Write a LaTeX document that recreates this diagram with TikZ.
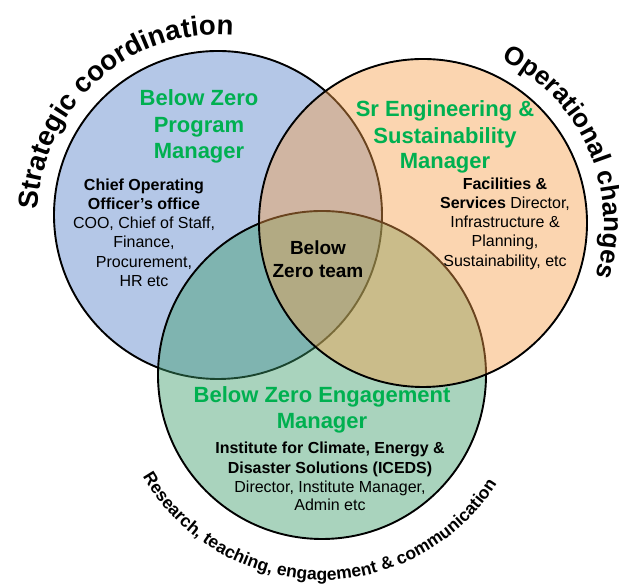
\documentclass[tikz,border=0pt]{standalone}
\usepackage{fontspec}
\setmainfont{Liberation Sans}
\usetikzlibrary{decorations.text}
\definecolor{bzblue}{RGB}{180,199,231}
\definecolor{bzgreenfill}{RGB}{60,157,107}
\definecolor{bzorange}{RGB}{246,158,72}
\definecolor{bzgreen}{RGB}{0,176,80}
\begin{document}
\begin{tikzpicture}[x=1pt,y=1pt,
  ring/.style={line width=1.9pt, draw=black},
  title/.style={font=\fontsize{22}{26}\selectfont\bfseries, text=bzgreen, inner sep=0pt, anchor=base},
  body/.style={font=\fontsize{16}{19}\selectfont, text=black, inner sep=0pt, anchor=base},
  bodyb/.style={font=\fontsize{16}{19}\selectfont\bfseries, text=black, inner sep=0pt, anchor=base},
  core/.style={font=\fontsize{19}{23}\selectfont\bfseries, text=black, inner sep=0pt, anchor=base}
]
\useasboundingbox (0,0) rectangle (619,585);
\fill[white] (0,0) rectangle (619,585);
% circles
\path[ring, fill=bzblue] (218,370) circle[radius=164];
\path[ring, fill=bzgreenfill, fill opacity=0.44] (322,210) circle[radius=164];
\path[ring, fill=bzorange, fill opacity=0.43] (423,362) circle[radius=164];
% arc texts
\path[decorate, decoration={text along path, text align=center,
  text={|\fontsize{27.6}{30}\selectfont\bfseries|Strategic coordination}}]
  (218,370) ++(191.8:180) arc[start angle=191.8, end angle=71.8, radius=180];
\path[decorate, decoration={text along path, text align=center,
  text={|\fontsize{26}{30}\selectfont\bfseries|Operational changes}}]
  (423,362) ++(83.55:181) arc[start angle=83.55, end angle=-36.45, radius=181];
\path[decorate, decoration={text along path, text align=center,
  text={|\fontsize{17.5}{20}\selectfont\bfseries|Research, teaching, engagement {\&} communication}}]
  (322,212) ++(198.85:207) arc[start angle=198.85, end angle=338.85, radius=207];
% blue circle texts
\node[title] (b1) at (199,479) {Below Zero};
\node[title] (b2) at (199,452) {Program};
\node[title] (b3) at (199,426) {Manager};
\node[bodyb] (b4) at (144,394.3) {Chief Operating};
\node[bodyb] (b5) at (144,375.2) {Officer’s office};
\node[body] (b6) at (144,356.1) {COO, Chief of Staff,};
\node[body] (b7) at (144,337) {Finance,};
\node[body] (b8) at (144,317.9) {Procurement,};
\node[body] (b9) at (144,298.8) {HR etc};
% orange circle texts
\node[title] (o1) at (445,468.3) {Sr Engineering \&};
\node[title] (o2) at (445,441.7) {Sustainability};
\node[title] (o3) at (445,416.7) {Manager};
\node[bodyb] (o4) at (505,395) {Facilities \&};
\node[body] (o5) at (505,376) {{\bfseries Services} Director,};
\node[body] (o6) at (505,357) {Infrastructure \&};
\node[body] (o7) at (505,338) {Planning,};
\node[body] (o8) at (505,318.3) {Sustainability, etc};
% green circle texts
\node[title] (g1) at (322,182.3) {Below Zero Engagement};
\node[title] (g2) at (322,156) {Manager};
\node[bodyb] (g3) at (330,131.7) {Institute for Climate, Energy \&};
\node[bodyb] (g4) at (330,111.7) {Disaster Solutions (ICEDS)};
\node[body] (g5) at (330,92.3) {Director, Institute Manager,};
\node[body] (g6) at (330,74.3) {Admin etc};
% centre
\node[core] (c1) at (318,330.7) {Below};
\node[core] (c2) at (318,307.3) {Zero team};
\end{tikzpicture}
\end{document}
